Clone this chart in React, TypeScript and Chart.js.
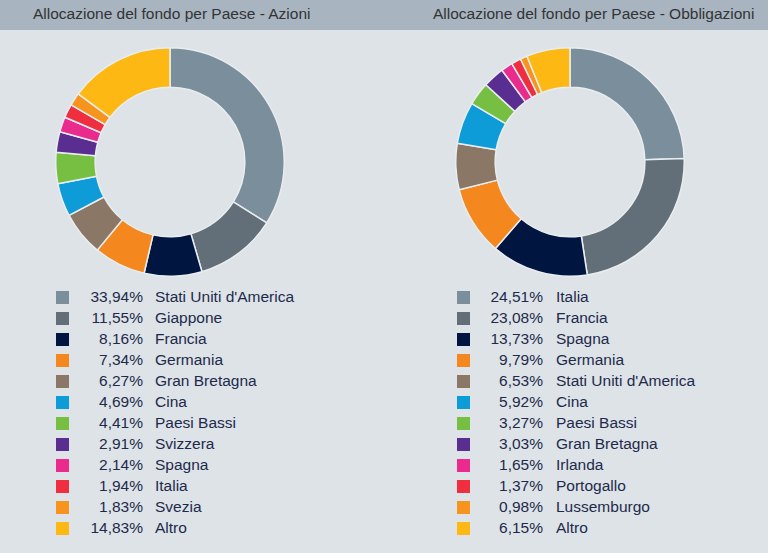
import React, { useEffect, useRef } from "react";
import { Chart, registerables } from "chart.js";

Chart.register(...registerables);

const titleAzioni = "Allocazione del fondo per Paese - Azioni";
const titleObbligazioni = "Allocazione del fondo per Paese - Obbligazioni";

const paesiAzioni = [
  "Stati Uniti d'America",
  "Giappone",
  "Francia",
  "Germania",
  "Gran Bretagna",
  "Cina",
  "Paesi Bassi",
  "Svizzera",
  "Spagna",
  "Italia",
  "Svezia",
  "Altro",
];
const valoriAzioni = [33.94, 11.55, 8.16, 7.34, 6.27, 4.69, 4.41, 2.91, 2.14, 1.94, 1.83, 14.83];

const paesiObbligazioni = [
  "Italia",
  "Francia",
  "Spagna",
  "Germania",
  "Stati Uniti d'America",
  "Cina",
  "Paesi Bassi",
  "Gran Bretagna",
  "Irlanda",
  "Portogallo",
  "Lussemburgo",
  "Altro",
];
const valoriObbligazioni = [24.51, 23.08, 13.73, 9.79, 6.53, 5.92, 3.27, 3.03, 1.65, 1.37, 0.98, 6.15];

const colori = [
  "#7a8e9c",
  "#636f78",
  "#001641",
  "#f5871f",
  "#8a7765",
  "#0e9cd9",
  "#76bf43",
  "#5a2d91",
  "#ea2b8d",
  "#ef2f3f",
  "#f7941d",
  "#fdb813",
];

const BG = "#dde3e7";
const HEADER = "#a8b5c1";
const TEXT = "#1e2a4c";

const fmt = (v: number) => v.toFixed(2).replace(".", ",") + "%";

function Donut({ labels, values, left }: { labels: string[]; values: number[]; left: number }) {
  const ref = useRef<HTMLCanvasElement | null>(null);
  useEffect(() => {
    if (!ref.current) return;
    const chart = new Chart(ref.current, {
      type: "doughnut",
      data: {
        labels,
        datasets: [
          {
            data: values,
            backgroundColor: colori,
            borderColor: "#e9edf0",
            borderWidth: 1.5,
          },
        ],
      },
      options: {
        responsive: false,
        maintainAspectRatio: false,
        animation: false,
        cutout: "65.5%",
        layout: { padding: 0 },
        plugins: {
          legend: { display: false },
          tooltip: { enabled: false },
        },
      },
    });
    return () => chart.destroy();
  }, []);
  return (
    <canvas
      ref={ref}
      width={230}
      height={230}
      style={{ position: "absolute", left, top: 47, width: 230, height: 230 }}
    />
  );
}

function Legend({
  labels,
  values,
  squareLeft,
  pctRight,
  nameLeft,
}: {
  labels: string[];
  values: number[];
  squareLeft: number;
  pctRight: number;
  nameLeft: number;
}) {
  return (
    <>
      {labels.map((l, i) => {
        const top = 286 + 21 * i;
        return (
          <React.Fragment key={i}>
            <div
              style={{
                position: "absolute",
                left: squareLeft,
                top: top + 5,
                width: 13,
                height: 13,
                background: colori[i],
              }}
            />
            <div
              style={{
                position: "absolute",
                left: pctRight - 80,
                width: 80,
                top,
                height: 21,
                lineHeight: "21px",
                textAlign: "right",
                color: TEXT,
                fontSize: 15.5,
                whiteSpace: "nowrap",
              }}
            >
              {fmt(values[i])}
            </div>
            <div
              style={{
                position: "absolute",
                left: nameLeft,
                top,
                height: 21,
                lineHeight: "21px",
                color: TEXT,
                fontSize: 15.5,
                whiteSpace: "nowrap",
              }}
            >
              {l}
            </div>
          </React.Fragment>
        );
      })}
    </>
  );
}

export default function App() {
  return (
    <div
      style={{
        position: "absolute",
        left: 0,
        top: 0,
        width: 768,
        height: 553,
        background: BG,
        overflow: "hidden",
        fontFamily: "'Liberation Sans', Arial, sans-serif",
      }}
    >
      <div style={{ position: "absolute", left: 0, top: 0, width: 768, height: 30, background: HEADER }} />
      <div
        style={{
          position: "absolute",
          left: 33,
          top: -1,
          height: 30,
          lineHeight: "30px",
          fontSize: 15.5,
          color: "#333333",
          whiteSpace: "nowrap",
        }}
      >
        {titleAzioni}
      </div>
      <div
        style={{
          position: "absolute",
          left: 433,
          top: -1,
          height: 30,
          lineHeight: "30px",
          fontSize: 15.5,
          color: "#333333",
          whiteSpace: "nowrap",
        }}
      >
        {titleObbligazioni}
      </div>
      <Donut labels={paesiAzioni} values={valoriAzioni} left={55} />
      <Donut labels={paesiObbligazioni} values={valoriObbligazioni} left={455} />
      <Legend labels={paesiAzioni} values={valoriAzioni} squareLeft={56} pctRight={143} nameLeft={155} />
      <Legend
        labels={paesiObbligazioni}
        values={valoriObbligazioni}
        squareLeft={457}
        pctRight={543}
        nameLeft={556}
      />
    </div>
  );
}
